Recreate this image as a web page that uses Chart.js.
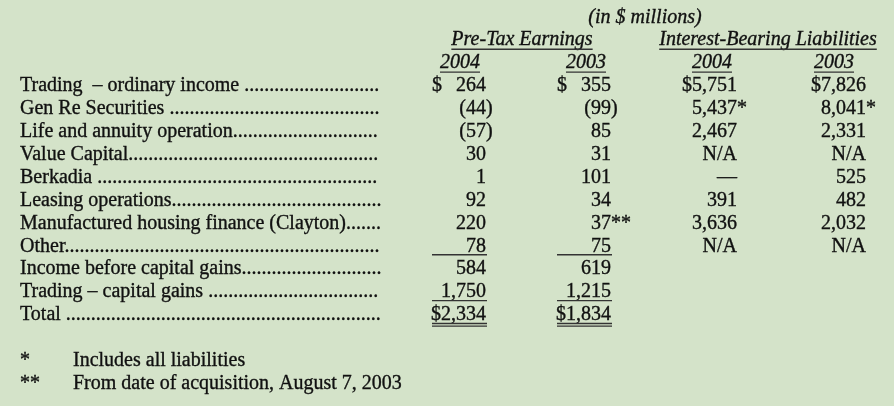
<!DOCTYPE html>
<html>
<head>
<meta charset="utf-8">
<script src="https://cdn.jsdelivr.net/npm/chart.js@4.4.1/dist/chart.umd.min.js"></script>
<style>
  html, body { margin: 0; padding: 0; background: #d4e3c9; }
  #wrap { width: 894px; height: 406px; }
</style>
</head>
<body>
<div id="wrap"><canvas id="table" width="894" height="406"></canvas></div>
<script>
// row labels and values (in $ millions)
const rowLabels = [
  'Trading  \u2013 ordinary income ',
  'Gen Re Securities ',
  'Life and annuity operation',
  'Value Capital',
  'Berkadia ',
  'Leasing operations',
  'Manufactured housing finance (Clayton)',
  'Other',
  'Income before capital gains',
  'Trading \u2013 capital gains ',
  'Total '
];
const preTax2004 = [264, -44, -57, 30, 1, 92, 220, 78, 584, 1750, 2334];
const preTax2003 = [355, -99, 85, 31, 101, 34, 37, 75, 619, 1215, 1834];
const preTax2003Notes = ['', '', '', '', '', '', '**', '', '', '', ''];
// null = N/A, 0 = dash
const liab2004 = [5751, 5437, 2467, null, 0, 391, 3636, null];
const liab2003 = [7826, 8041, 2331, null, 525, 482, 2032, null];
const liabNotes = ['', '*', '', '', '', '', '', ''];

const unitLabel = '(in $ millions)';
const groupLabels = ['Pre-Tax Earnings', 'Interest-Bearing Liabilities'];
const yearLabels = ['2004', '2003', '2004', '2003'];
const footMarks = ['*', '**'];
const footTexts = ['Includes all liabilities', 'From date of acquisition, August 7, 2003'];

// layout
const FONT = '20px "Liberation Serif", "Times New Roman", serif';
const IFONT = 'italic ' + FONT;
const labelX = 20, leaderEnd = 382;
const colRight = [486, 611, 737, 866];
const colLeft = [432, 557];
const yearCenter = [460, 586, 712, 834];
const groupCenter = [522, 768];
const ink = '#111';

function fmt(v, dollar) {
  const s = Math.abs(v).toLocaleString('en-US');
  if (v < 0) return '(' + s + ')';
  return (dollar ? '$' : '') + s;
}
function fmtLiab(v, dollar) {
  if (v === null) return 'N/A';
  if (v === 0) return '\u2014';
  return (dollar ? '$' : '') + v.toLocaleString('en-US');
}

function pts(values, col) {
  return values.map((v, i) => ({ x: col, y: i }));
}

const lastRow = rowLabels.length - 1;

const tablePlugin = {
  id: 'tableText',
  afterDatasetsDraw(chart) {
    const ctx = chart.ctx;
    const xs = chart.scales.x, ys = chart.scales.y;
    ctx.save();
    ctx.fillStyle = ink;
    ctx.textBaseline = 'middle';

    // slightly heavier text, like the scanned original
    function txt(s, x, y) {
      ctx.fillText(s, x, y);
      ctx.lineWidth = 0.35;
      ctx.strokeStyle = ink;
      ctx.strokeText(s, x, y);
    }
    // right-aligned number, hanging ")" and note marks
    function num(text, note, x, y) {
      ctx.font = FONT;
      let hang = '';
      if (text.endsWith(')')) { hang = ')'; text = text.slice(0, -1); }
      ctx.textAlign = 'right';
      txt(text, x, y);
      ctx.textAlign = 'left';
      txt(hang + (note || ''), x, y);
    }
    function uline(x0, x1, y, dbl) {
      ctx.lineWidth = 1.4;
      ctx.strokeStyle = '#333';
      ctx.beginPath();
      ctx.moveTo(x0, y); ctx.lineTo(x1, y);
      if (dbl) { ctx.moveTo(x0, y + 2.6); ctx.lineTo(x1, y + 2.6); }
      ctx.stroke();
    }
    function centered(text, cx, y, italic, under) {
      ctx.font = italic ? IFONT : FONT;
      ctx.textAlign = 'center';
      txt(text, cx, y);
      if (under) {
        const w = ctx.measureText(text).width;
        uline(cx - w / 2, cx + w / 2, y + 9, false);
      }
    }

    // headers
    centered(unitLabel, xs.getPixelForValue(645), ys.getPixelForValue(-3), true, false);
    groupLabels.forEach((g, k) => centered(g, xs.getPixelForValue(groupCenter[k]), ys.getPixelForValue(-2), true, true));
    yearLabels.forEach((t, k) => centered(t, xs.getPixelForValue(yearCenter[k]), ys.getPixelForValue(-1), true, true));

    // row labels with dot leaders
    chart.getDatasetMeta(0).data.forEach((el, i) => {
      ctx.font = FONT;
      ctx.textAlign = 'left';
      let s = rowLabels[i];
      const room = xs.getPixelForValue(leaderEnd) - el.x;
      while (ctx.measureText(s + '.').width <= room) s += '.';
      txt(s, el.x, el.y);
    });

    // pre-tax columns
    [[preTax2004, null, 1], [preTax2003, preTax2003Notes, 2]].forEach(([vals, notes, d], k) => {
      chart.getDatasetMeta(d).data.forEach((el, i) => {
        const v = vals[i];
        if (i === 0) {
          ctx.font = FONT; ctx.textAlign = 'left';
          txt('$', xs.getPixelForValue(colLeft[k]), el.y);
        }
        num(fmt(v, i === lastRow), notes ? notes[i] : '', el.x, el.y);
        const x0 = xs.getPixelForValue(colLeft[k]), x1 = el.x + 1;
        if (i === 7 || i === 9) uline(x0, x1, el.y + 8.5, false);
        if (i === lastRow) uline(x0, x1, el.y + 8.5, true);
      });
    });

    // liabilities columns
    [[liab2004, 3], [liab2003, 4]].forEach(([vals, d]) => {
      chart.getDatasetMeta(d).data.forEach((el, i) => {
        num(fmtLiab(vals[i], i === 0), liabNotes[i], el.x, el.y);
      });
    });

    // footnotes
    chart.getDatasetMeta(5).data.forEach((el, i) => {
      ctx.font = FONT; ctx.textAlign = 'left';
      txt(footMarks[i], el.x, el.y);
      txt(footTexts[i], xs.getPixelForValue(73), el.y);
    });
    ctx.restore();
  }
};

const ROW0 = 86, ROWH = 22.9, H = 406;

new Chart(document.getElementById('table'), {
  type: 'scatter',
  data: {
    datasets: [
      { label: 'labels', data: pts(rowLabels, labelX) },
      { label: 'Pre-Tax 2004', data: pts(preTax2004, colRight[0]) },
      { label: 'Pre-Tax 2003', data: pts(preTax2003, colRight[1]) },
      { label: 'Liabilities 2004', data: pts(liab2004, colRight[2]) },
      { label: 'Liabilities 2003', data: pts(liab2003, colRight[3]) },
      { label: 'notes', data: footMarks.map((m, i) => ({ x: labelX, y: rowLabels.length + 1 + i })) }
    ]
  },
  options: {
    responsive: false,
    animation: false,
    events: [],
    layout: { padding: 0 },
    elements: { point: { radius: 0, hoverRadius: 0 } },
    plugins: { legend: { display: false }, tooltip: { enabled: false } },
    scales: {
      x: { type: 'linear', display: false, min: 0, max: 894 },
      y: { type: 'linear', display: false, reverse: true,
           min: -ROW0 / ROWH, max: (H - ROW0) / ROWH }
    }
  },
  plugins: [tablePlugin]
});
</script>
</body>
</html>
